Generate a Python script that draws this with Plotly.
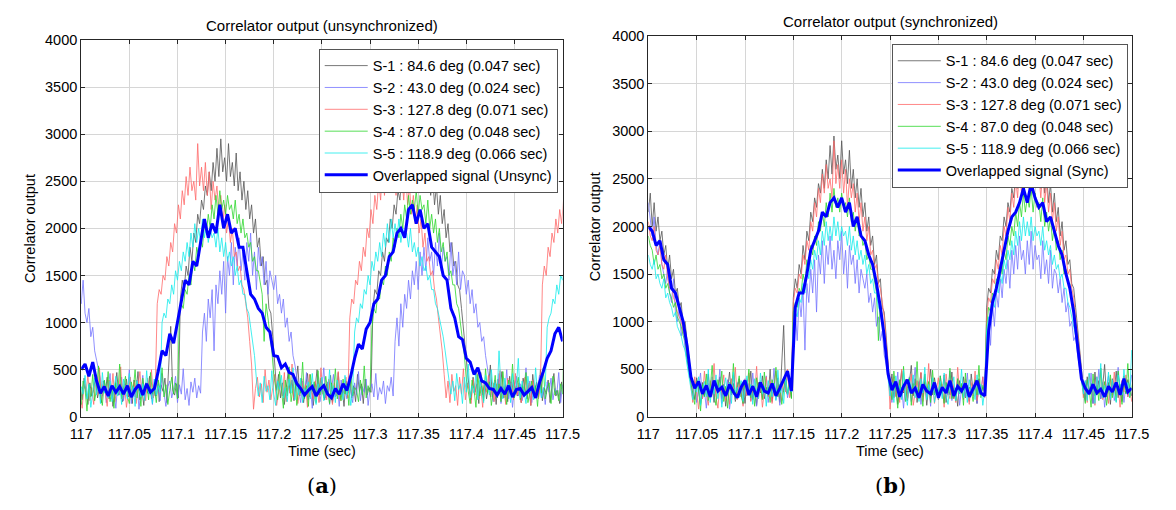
import numpy as np
import plotly.graph_objects as go

# ---------------- data ----------------
T_START = 117.0
DT_SIG = 0.002   # sample spacing of the sensor signals (sec)
DT_OV = 0.004    # sample spacing of the overlapped signals (sec)

NAMES = ["S-1 : 84.6 deg (0.047 sec)", "S-2 : 43.0 deg (0.024 sec)",
         "S-3 : 127.8 deg (0.071 sec)", "S-4 : 87.0 deg (0.048 sec)",
         "S-5 : 118.9 deg (0.066 sec)"]
DELAYS = [0.047, 0.024, 0.071, 0.048, 0.066]
COLORS = ["rgb(85,85,85)", "rgb(115,115,255)", "rgb(255,105,105)",
          "rgb(45,215,45)", "rgb(20,235,235)"]

# synchronized sensor signals, sample i at T_START + i*DT_SIG
S1 = [2150, 2350, 2000, 2250, 1950, 2100, 1850, 1950, 1700, 1800,
      1550, 1700, 1450, 1550, 1300, 1350, 1150, 1200, 950, 1000,
      800, 600, 450,
      320, 180, 410, 250, 130, 360, 220, 290, 450, 200,
      310, 150, 380, 260, 420, 190, 340, 110, 300, 470,
      230, 350, 160, 280, 400, 210, 330, 140, 390, 260,
      480, 180, 300, 120, 360, 250, 430, 190, 310, 220,
      500, 160, 340, 270, 410, 150, 520, 960, 280, 230,
      350, 200,
      1250, 1450, 1350, 1600, 1500, 1800, 1650, 1950, 1850, 2150,
      2050, 2300, 2200, 2450, 2350, 2600, 2400, 2700, 2500, 2850,
      2550, 2950, 2600, 2750, 2500, 2900, 2550, 2700, 2450, 2800,
      2400, 2600, 2300, 2500, 2200, 2400, 2100, 2250, 1950, 2100,
      1800, 1900, 1600, 1700, 1400, 1450, 1150, 1100, 850, 550,
      280, 450, 200, 360, 130, 310, 480, 250, 390, 170,
      330, 540, 220, 400, 150, 290, 460, 210, 370, 120,
      340, 500, 230, 410, 280, 180, 350, 260, 440, 150,
      320, 230, 470, 190, 300, 110, 380, 250, 420, 200,
      330, 160, 450, 270, 350, 140, 400, 230, 310, 260,
      1150, 1350, 1300, 1550, 1500, 1750, 1650, 1900, 1850, 2100,
      2000, 2250, 2150, 2400, 2300, 2550, 2400, 2700, 2450, 2800,
      2550, 2650, 2500, 2800, 2450, 2750, 2600, 2700, 2400, 2650,
      2350, 2550, 2250, 2450, 2150, 2350, 2050, 2200, 1900, 2050,
      1750, 1850, 1600, 1650, 1400, 1350, 1150, 950, 750, 500,
      300, 180, 420, 260, 350, 140, 470, 230, 380, 190,
      320, 550, 210, 360, 130, 400, 270, 480, 200, 340,
      160, 430, 250, 390, 300, 220, 360, 150, 410, 280,
      190, 340, 120, 450, 260, 370, 210, 500, 170, 310,
      240, 390, 150, 330, 460, 220, 280, 140, 370, 250,
      1300, 1450, 1400, 1650, 1550, 1800, 1750, 2000, 1900, 2150,
      2050, 2300, 2200, 2400]
S2 = [2250, 2050, 1900, 2100, 1800, 1700, 1850, 1600, 1500, 1400,
      1550, 1300, 1200, 1450, 1100, 1000, 1150, 850, 950, 700,
      600, 500, 400,
      220, 380, 150, 300, 460, 190, 270, 90, 350, 230,
      420, 170, 310, 260, 500, 140, 330, 210, 390, 80,
      280, 440, 180, 360, 240, 310, 130, 400, 220, 350,
      170, 460, 250, 110, 320, 380, 200, 290, 430, 150,
      340, 240, 510, 180, 300, 120, 370, 260, 410, 200,
      330, 250,
      900, 1100, 800, 1250, 1050, 1350, 700, 1400, 1200, 1550,
      1300, 1650, 1100, 1700, 1500, 1850, 1400, 1800, 1600, 1900,
      1550, 1750, 1450, 1850, 1650, 1950, 1500, 1750, 1350, 1800,
      1600, 1700, 1400, 1650, 1300, 1550, 1450, 1350, 1500, 1200,
      1300, 1100, 1250, 950, 1050, 800, 900, 650, 550, 400,
      260, 150, 380, 220, 470, 180, 310, 90, 350, 240,
      420, 160, 300, 520, 200, 370, 130, 280, 450, 210,
      340, 110, 390, 250, 300, 190, 430, 270, 150, 360,
      230, 480, 170, 320, 260, 400, 120, 290, 350, 210,
      460, 180, 310, 240, 380, 140, 330, 270, 420, 220,
      800, 1050, 750, 1200, 950, 1300, 1150, 1450, 1250, 1550,
      1400, 1650, 1350, 1750, 1500, 1800, 1550, 1900, 1650, 1750,
      1500, 1850, 1600, 1950, 1550, 1800, 1650, 1700, 1450, 1850,
      1500, 1650, 1400, 1750, 1350, 1550, 1500, 1300, 1450, 1200,
      1350, 1100, 1200, 950, 1000, 800, 850, 650, 500, 380,
      280, 160, 390, 230, 460, 140, 320, 250, 500, 190,
      360, 100, 300, 430, 220, 350, 170, 280, 520, 240,
      380, 150, 330, 210, 290, 440, 200, 310, 130, 370,
      260, 410, 180, 300, 240, 470, 150, 340, 220, 390,
      120, 280, 350, 200, 430, 260, 170, 320, 240, 300,
      900, 1050, 1150, 1000, 1300, 1200, 1450, 1300, 1550, 1400,
      1650, 1500, 1700, 1550]
S3 = [2050, 1900, 1850, 2000, 1750, 1700, 1800, 1600, 1550, 1700,
      1450, 1350, 1400, 1250, 1200, 1100, 1050, 1000, 900, 850,
      700, 500, 350,
      150, 420, 270, 80, 330, 190, 480, 240, 120, 380,
      300, 560, 200, 90, 350, 260, 440, 170, 310, 130,
      400, 230, 520, 180, 340, 270, 110, 390, 220, 460,
      160, 300, 250, 530, 190, 350, 100, 280, 420, 210,
      370, 140, 330, 480, 230, 290, 170, 410, 260, 500,
      200, 320,
      1200, 1350, 1300, 1500, 1450, 1700, 1600, 1850, 1750, 2050,
      1950, 2250, 2100, 2400, 2250, 2550, 2350, 2650, 2400, 2500,
      2300, 2900, 2450, 2650, 2400, 2700, 2350, 2600, 2200, 2500,
      2300, 2450, 2150, 2350, 2050, 2250, 1950, 2100, 1850, 2000,
      1700, 1750, 1550, 1600, 1400, 1350, 1200, 1050, 800, 550,
      80, 300, 420, 210, 350, 150, 500, 260, 390, 180,
      310, 450, 120, 280, 380, 220, 470, 160, 330, 250,
      560, 200, 370, 140, 290, 410, 230, 340, 100, 450,
      270, 190, 380, 300, 150, 520, 240, 330, 180, 400,
      260, 130, 360, 220, 480, 170, 310, 250, 420, 200,
      1050, 1250, 1200, 1450, 1400, 1650, 1550, 1800, 1700, 2000,
      1900, 2200, 2050, 2350, 2200, 2500, 2300, 2650, 2350, 2750,
      2450, 2600, 2400, 2700, 2350, 2650, 2500, 2550, 2300, 2600,
      2250, 2450, 2150, 2350, 2050, 2250, 1950, 2100, 1800, 1950,
      1650, 1700, 1500, 1550, 1350, 1250, 1050, 900, 700, 450,
      200, 380, 150, 450, 270, 330, 120, 420, 240, 510,
      180, 360, 290, 140, 400, 230, 470, 190, 320, 100,
      380, 260, 440, 210, 310, 160, 350, 270, 490, 200,
      300, 130, 410, 250, 370, 180, 460, 230, 330, 150,
      280, 420, 210, 360, 120, 390, 240, 300, 190, 340,
      1400, 1600, 1500, 1800, 1700, 1950, 1850, 2100, 1950, 2200,
      2050, 2300, 2150, 2250]
S4 = [1900, 1800, 1750, 1600, 1700, 1550, 1600, 1450, 1500, 1350,
      1400, 1300, 1250, 1150, 1200, 1050, 1000, 950, 850, 800,
      600, 450, 350,
      250, 130, 380, 290, 60, 340, 210, 450, 170, 300,
      540, 230, 120, 390, 270, 480, 160, 320, 90, 360,
      250, 560, 190, 300, 430, 220, 140, 370, 280, 500,
      200, 330, 110, 410, 260, 350, 180, 470, 240, 310,
      150, 390, 290, 520, 210, 340, 130, 280, 420, 240,
      360, 190,
      1100, 1200, 1150, 1350, 1300, 1500, 1400, 1650, 1550, 1800,
      1700, 1900, 1800, 2050, 1950, 2150, 2000, 2250, 2100, 2350,
      2150, 2400, 2200, 2300, 2150, 2350, 2200, 2250, 2100, 2300,
      2050, 2150, 1950, 2100, 1900, 1950, 1800, 1850, 1650, 1700,
      1550, 1550, 1400, 1300, 800, 1200, 1050, 900, 700, 450,
      330, 180, 480, 260, 90, 390, 220, 530, 160, 300,
      410, 120, 350, 250, 580, 190, 330, 110, 450, 270,
      370, 150, 490, 230, 320, 200, 430, 280, 140, 360,
      250, 510, 190, 300, 170, 400, 240, 350, 120, 460,
      220, 310, 280, 160, 390, 230, 540, 200, 330, 260,
      950, 1150, 1100, 1300, 1250, 1450, 1400, 1600, 1500, 1750,
      1650, 1900, 1800, 2000, 1900, 2150, 2000, 2250, 2100, 2350,
      2150, 2300, 2200, 2400, 2150, 2350, 2200, 2250, 2050, 2300,
      2000, 2150, 1950, 2100, 1850, 2000, 1750, 1850, 1650, 1750,
      1500, 1550, 1400, 1400, 1200, 1150, 1000, 850, 650, 400,
      260, 140, 390, 290, 100, 450, 220, 330, 170, 510,
      250, 370, 120, 300, 440, 200, 350, 160, 480, 270,
      130, 390, 240, 560, 200, 310, 420, 180, 340, 260,
      470, 150, 290, 380, 210, 330, 110, 400, 250, 520,
      190, 300, 360, 140, 430, 230, 280, 170, 350, 240,
      1100, 1250, 1200, 1400, 1350, 1550, 1500, 1700, 1600, 1850,
      1750, 1950, 1850, 2050]
S5 = [1700, 1600, 1550, 1650, 1450, 1500, 1400, 1350, 1450, 1250,
      1300, 1200, 1150, 1050, 1100, 950, 900, 850, 750, 700,
      550, 400, 300,
      180, 330, 260, 420, 120, 290, 370, 210, 500, 150,
      320, 240, 440, 190, 350, 100, 280, 410, 230, 360,
      140, 470, 250, 310, 200, 380, 160, 300, 430, 220,
      340, 130, 400, 270, 190, 460, 240, 320, 110, 380,
      280, 210, 350, 170, 490, 250, 300, 140, 400, 230,
      330, 260,
      1000, 1100, 1050, 1250, 1200, 1400, 1300, 1550, 1450, 1650,
      1550, 1750, 1650, 1850, 1700, 1950, 1800, 2050, 1850, 2000,
      1850, 2100, 1900, 2050, 1850, 2000, 1900, 1950, 1800, 2000,
      1750, 1900, 1700, 1850, 1650, 1750, 1600, 1700, 1500, 1600,
      1400, 1450, 1300, 1300, 1150, 1100, 950, 800, 650, 400,
      220, 360, 150, 430, 270, 330, 180, 490, 240, 120,
      380, 290, 440, 200, 310, 160, 400, 250, 520, 180,
      340, 230, 410, 150, 300, 260, 370, 190, 460, 220,
      130, 350, 280, 420, 170, 310, 240, 500, 200, 330,
      150, 390, 260, 300, 180, 440, 230, 340, 120, 280,
      900, 1050, 1000, 1200, 1150, 1350, 1300, 1500, 1400, 1650,
      1550, 1750, 1650, 1850, 1700, 1950, 1800, 2050, 1850, 2100,
      1900, 2050, 1900, 2100, 1850, 2000, 1900, 1950, 1800, 2000,
      1750, 1850, 1700, 1800, 1600, 1700, 1550, 1600, 1450, 1500,
      1350, 1350, 1200, 1150, 1050, 950, 850, 700, 550, 350,
      240, 380, 170, 460, 290, 350, 140, 420, 260, 560,
      200, 330, 250, 470, 180, 390, 280, 150, 440, 310,
      230, 500, 270, 360, 220, 700, 300, 190, 410, 260,
      350, 150, 460, 230, 320, 620, 200, 380, 270, 140,
      430, 250, 310, 180, 520, 240, 360, 200, 290, 330,
      950, 1050, 1100, 1250, 1200, 1400, 1300, 1500, 1450, 1600,
      1550, 1700, 1600, 1750]

# overlapped signals, sample i at T_START + i*DT_OV
OV_UNSYNC = [500, 560, 430, 580, 380, 250, 320, 220, 330, 260,
             320, 240, 330, 210, 290, 340, 230, 350, 260, 300,
             480, 700, 650, 880, 780, 1000, 1250, 1450, 1400, 1650,
             1600, 1850, 2100, 1900, 2050, 1950, 2250, 2000, 2150, 1950,
             2000, 1800, 1800, 1550, 1300, 1250, 1150, 1100, 950, 900,
             650, 640, 520, 560, 470, 450, 350, 300, 230, 280,
             320, 220, 290, 330, 240, 200, 300, 240, 350, 280,
             430, 620, 770, 720, 930, 1000, 1200, 1250, 1450, 1500,
             1700, 1750, 1950, 2000, 1900, 2200, 2250, 2050, 2200, 2000,
             2050, 1800, 1750, 1700, 1500, 1450, 1150, 1050, 850, 820,
             620, 580, 450, 520, 380, 360, 300, 290, 230, 300,
             240, 330, 210, 290, 300, 230, 270, 310, 200, 360,
             480, 620, 700, 880, 950, 800]
OV_SYNC = [2000, 1950, 1800, 1850, 1650, 1600, 1350, 1300, 1150, 1000,
           750, 420, 300, 370, 240, 330, 210, 380, 270, 310,
           220, 340, 260, 200, 310, 380, 230, 320, 210, 360,
           270, 250, 350, 220, 300, 400, 480, 270,
           1150, 1300, 1300, 1500, 1750, 1850, 1950, 2150, 2100, 2250,
           2300, 2200, 2300, 2150, 2250, 2000, 2100, 1900, 1850, 1700,
           1600, 1400, 1150, 850, 450,
           280, 370, 210, 320, 390, 250, 300, 200, 340, 270,
           240, 360, 200, 310, 250, 380, 220, 320, 270, 350,
           210, 300, 380, 250, 220,
           900, 1200, 1350, 1550, 1750, 1950, 2100, 2150, 2250, 2400,
           2250, 2450, 2300, 2200, 2250, 2050, 2100, 1950, 1800, 1700,
           1500, 1350, 1100, 750, 400,
           300, 240, 340, 250, 290, 210, 320, 260, 360, 230,
           400, 260, 300]

X_TICKS = [117.0, 117.05, 117.1, 117.15, 117.2, 117.25, 117.3, 117.35, 117.4, 117.45, 117.5]
X_TICK_LABELS = ["117", "117.05", "117.1", "117.15", "117.2", "117.25", "117.3", "117.35",
                 "117.4", "117.45", "117.5"]
Y_TICKS = [0, 500, 1000, 1500, 2000, 2500, 3000, 3500, 4000]

# ---------------- figure ----------------
W, H = 1176, 510
FONT = "Liberation Sans, Arial, Helvetica, sans-serif"


def px_x(p):
    return p / W


def px_y(p):
    return (H - p) / H


signals = [S1, S2, S3, S4, S5]

fig = go.Figure()
# (a) unsynchronized: each sensor appears at its own delay
for k in range(5):
    t = T_START + DT_SIG * np.arange(len(signals[k]))
    fig.add_trace(go.Scatter(x=t - DELAYS[k], y=signals[k], mode="lines", name=NAMES[k],
                             line=dict(color=COLORS[k], width=0.8), xaxis="x", yaxis="y",
                             legend="legend"))
fig.add_trace(go.Scatter(x=T_START + DT_OV * np.arange(len(OV_UNSYNC)), y=OV_UNSYNC,
                         mode="lines", name="Overlapped signal (Unsync)",
                         line=dict(color="rgb(0,0,255)", width=3), xaxis="x", yaxis="y",
                         legend="legend"))
# (b) synchronized
for k in range(5):
    t = T_START + DT_SIG * np.arange(len(signals[k]))
    fig.add_trace(go.Scatter(x=t, y=signals[k], mode="lines", name=NAMES[k],
                             line=dict(color=COLORS[k], width=0.8), xaxis="x2", yaxis="y2",
                             legend="legend2"))
fig.add_trace(go.Scatter(x=T_START + DT_OV * np.arange(len(OV_SYNC)), y=OV_SYNC,
                         mode="lines", name="Overlapped signal (Sync)",
                         line=dict(color="rgb(0,0,255)", width=3), xaxis="x2", yaxis="y2",
                         legend="legend2"))

axis_common = dict(showline=True, linecolor="#262626", linewidth=1, mirror="allticks",
                   ticks="inside", ticklen=4, tickcolor="#262626", showgrid=True,
                   gridcolor="#d6d6d6", gridwidth=1, zeroline=False,
                   tickfont=dict(family=FONT, size=14.5, color="black"))

L = dict(x0=71, x1=565, y0=33, y1=422)
R = dict(x0=653, x1=1149, y0=29, y1=422)

legend_common = dict(xanchor="right", yanchor="top", bgcolor="white",
                     bordercolor="#555555", borderwidth=1,
                     font=dict(family=FONT, size=14.5, color="black"),
                     itemwidth=43, tracegroupgap=0)

fig.update_layout(
    width=W, height=H, margin=dict(l=0, r=0, t=0, b=0),
    paper_bgcolor="white", plot_bgcolor="white",
    font=dict(family=FONT, color="black"),
    xaxis=dict(domain=[px_x(L["x0"]), px_x(L["x1"])], range=[117, 117.5], anchor="y",
               tickvals=X_TICKS, ticktext=X_TICK_LABELS, ticklabelstandoff=4, **axis_common),
    yaxis=dict(domain=[px_y(L["y1"]), px_y(L["y0"])], range=[0, 4000], anchor="x",
               tickvals=Y_TICKS, **axis_common),
    xaxis2=dict(domain=[px_x(R["x0"]), px_x(R["x1"])], range=[117, 117.5], anchor="y2",
                tickvals=X_TICKS, ticktext=X_TICK_LABELS, ticklabelstandoff=4, **axis_common),
    yaxis2=dict(domain=[px_y(R["y1"]), px_y(R["y0"])], range=[0, 4000], anchor="x2",
                tickvals=Y_TICKS, **axis_common),
    legend=dict(x=px_x(560), y=px_y(42), **legend_common),
    legend2=dict(x=px_x(1145), y=px_y(37), **legend_common),
)

ann = []


def add_text(text, x, y, size=15, angle=0, family=FONT):
    ann.append(dict(text=text, x=px_x(x), y=px_y(y), xref="paper", yref="paper",
                    showarrow=False, textangle=angle, xanchor="center", yanchor="middle",
                    font=dict(family=family, size=size, color="black")))


add_text("Correlator output (unsynchronized)", (L["x0"] + L["x1"]) / 2, 18)
add_text("Correlator output (synchronized)", (R["x0"] + R["x1"]) / 2, 14)
add_text("Correlator output", 19, (L["y0"] + L["y1"]) / 2, size=14.5, angle=-90)
add_text("Correlator output", 599, (R["y0"] + R["y1"]) / 2, size=14.5, angle=-90)
add_text("Time (sec)", (L["x0"] + L["x1"]) / 2, 457, size=14.5)
add_text("Time (sec)", (R["x0"] + R["x1"]) / 2, 457, size=14.5)
SERIF = "DejaVu Serif, Liberation Serif, serif"
add_text("(<b>a</b>)", (L["x0"] + L["x1"]) / 2, 493, size=21, family=SERIF)
add_text("(<b>b</b>)", (R["x0"] + R["x1"]) / 2, 493, size=21, family=SERIF)
fig.update_layout(annotations=ann)

fig.write_html("out.html")
